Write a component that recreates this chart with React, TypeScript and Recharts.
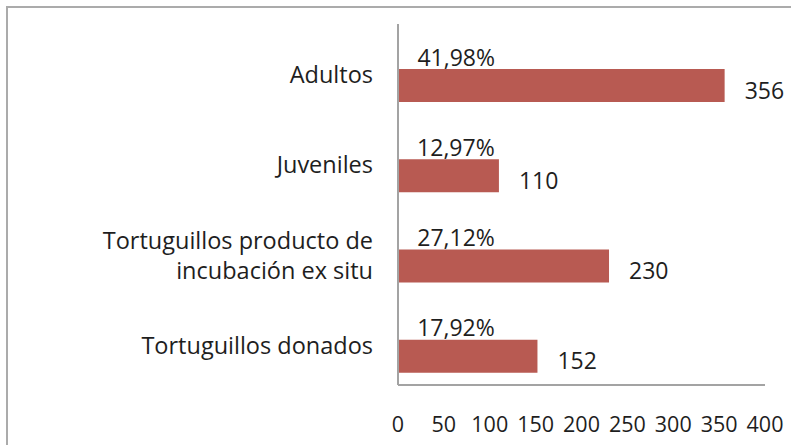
import React from 'react';
import { BarChart, Bar, XAxis, YAxis, LabelList } from 'recharts';

const categories = [
  'Adultos',
  'Juveniles',
  'Tortuguillos producto de\nincubación ex situ',
  'Tortuguillos donados',
];
const counts = [356, 110, 230, 152];
const percents = [41.98, 12.97, 27.12, 17.92];
const xTicks = [0, 50, 100, 150, 200, 250, 300, 350, 400];

const data = categories.map((name, i) => ({
  name,
  share: percents[i] / 100,
  count: counts[i],
}));

const FONT = '"Open Sans", sans-serif';
const TEXT = '#1e1e1e';
const AXIS = '#a3a3a3';
const BAR = '#b85a52';

const fmtPct = (v: number) => (v * 100).toFixed(2).replace('.', ',') + '%';

const CategoryTick = (props: any) => {
  const { x, y, payload } = props;
  const lines = String(payload.value).split('\n');
  const lh = 30;
  const start = y + 5 - ((lines.length - 1) * lh) / 2;
  return (
    <text x={x} y={start} textAnchor="end" fill={TEXT} fontSize={23.5} fontFamily={FONT} dominantBaseline="central">
      {lines.map((l, i) => (
        <tspan key={i} x={x} y={start + i * lh}>
          {l}
        </tspan>
      ))}
    </text>
  );
};

const BarLabel = (offset: number, dy: number, format?: (v: number) => string) => (props: any) => {
  const { x, y, width, height, value } = props;
  return (
    <text
      x={x + width + offset}
      y={y + height / 2 + dy}
      fill={TEXT}
      fontSize={23}
      fontFamily={FONT}
      dominantBaseline="central"
    >
      {format ? format(value) : value}
    </text>
  );
};

export default function App() {
  return (
    <div style={{ position: 'absolute', left: 0, top: 0, width: 791, height: 445, overflow: 'hidden', background: '#fff' }}>
      <div
        style={{
          position: 'absolute',
          left: 6,
          top: 6,
          width: 900,
          height: 600,
          borderTop: '2px solid #ababab',
          borderLeft: '2px solid #ababab',
        }}
      />
      <div style={{ position: 'absolute', left: 0, top: 0 }}>
        <BarChart
          width={791}
          height={445}
          data={data}
          layout="vertical"
          margin={{ top: 24, right: 26, bottom: 0, left: 0 }}
          barCategoryGap={12}
          barGap={0}
        >
          <XAxis
            type="number"
            domain={[0, 400]}
            ticks={xTicks}
            interval={0}
            height={60}
            tickLine={false}
            tickSize={6}
            tickMargin={26}
            axisLine={{ stroke: AXIS, strokeWidth: 2 }}
            tick={{ fill: TEXT, fontSize: 21.5, fontFamily: FONT }}
          />
          <YAxis
            type="category"
            dataKey="name"
            width={398}
            tickLine={false}
            tickSize={6}
            tickMargin={19}
            interval={0}
            axisLine={{ stroke: AXIS, strokeWidth: 2 }}
            tick={<CategoryTick />}
          />
          <Bar dataKey="share" fill="transparent" isAnimationActive={false}>
            <LabelList dataKey="share" content={BarLabel(19, 4, fmtPct)} />
          </Bar>
          <Bar dataKey="count" fill={BAR} isAnimationActive={false}>
            <LabelList dataKey="count" content={BarLabel(20, 4)} />
          </Bar>
        </BarChart>
      </div>
    </div>
  );
}
